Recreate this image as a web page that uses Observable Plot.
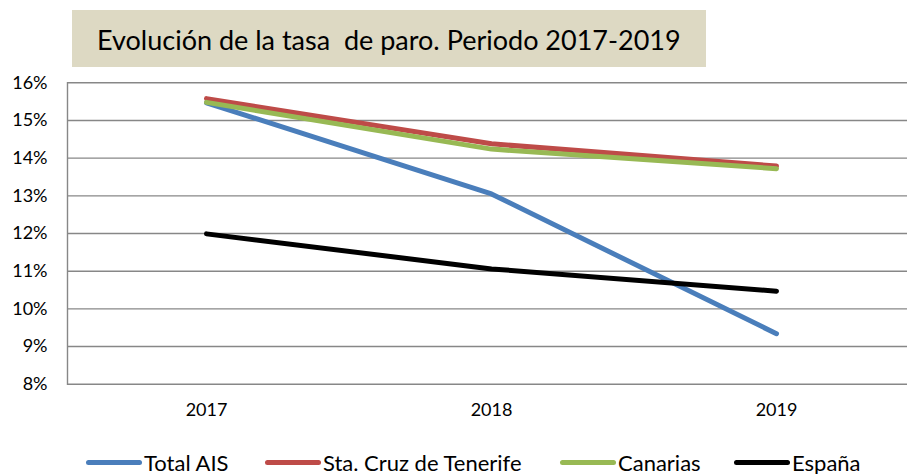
<!DOCTYPE html>
<html>
<head>
<meta charset="utf-8">
<script src="https://cdn.jsdelivr.net/npm/d3@7"></script>
<script src="https://cdn.jsdelivr.net/npm/@observablehq/plot@0.6"></script>
<style>
  html, body { margin: 0; padding: 0; background: #fff; width: 907px; height: 474px; overflow: hidden; font-family: Lato, "Open Sans", sans-serif; }
  #title { position: absolute; left: 72px; top: 10px; width: 634px; height: 57px; background: #ddd9c3; box-sizing: border-box; padding-left: 25px; padding-top: 3px; font-size: 27px; line-height: 54px; color: #000; white-space: pre; }
  #chart { position: absolute; left: 0; top: 72px; }
  #legend { position: absolute; left: 0; top: 450px; width: 907px; height: 24px; font-size: 22px; color: #000; }
  .item { position: absolute; top: 0; display: flex; align-items: center; height: 24px; white-space: pre; }
  .sw { display: inline-block; width: 56px; height: 5px; border-radius: 3px; margin-right: 2px; }
</style>
</head>
<body>
<div id="title">Evolución de la tasa  de paro. Periodo 2017-2019</div>
<div id="chart"></div>
<div id="legend"></div>
<script>
const years = [2017, 2018, 2019];
const seriesNames = ["Total AIS", "Sta. Cruz de Tenerife", "Canarias", "España"];
const totalAIS = [15.47, 13.05, 9.34];
const staCruz = [15.58, 14.38, 13.79];
const canarias = [15.48, 14.24, 13.72];
const espana = [11.99, 11.06, 10.47];
const colors = ["#4a7ebb", "#be4b48", "#98b954", "#000000"];
const yTicks = [8, 9, 10, 11, 12, 13, 14, 15, 16];

const valueSets = [totalAIS, staCruz, canarias, espana];
const data = [];
seriesNames.forEach((s, i) => years.forEach((yr, j) => data.push({serie: s, year: String(yr), value: valueSets[i][j]})));

const plot = Plot.plot({
  width: 907,
  height: 360,
  marginLeft: 67,
  marginRight: 0,
  marginTop: 10.3,
  marginBottom: 48.3,
  style: {fontFamily: "Lato, 'Open Sans', sans-serif", fontSize: "18px", color: "#000", background: "transparent"},
  x: {type: "point", domain: years.map(String), range: [206, 776], padding: 0, label: null},
  y: {domain: [8, 16], label: null},
  color: {domain: seriesNames, range: colors},
  marks: [
    Plot.gridY(yTicks, {stroke: "#878787", strokeOpacity: 1, strokeWidth: 1.4}),
    Plot.frame({anchor: "left", stroke: "#878787", strokeWidth: 1.4}),
    Plot.axisY(yTicks, {tickSize: 0, tickPadding: 20, tickFormat: d => d + "%", fontSize: 18}),
    Plot.axisX(years.map(String), {tickSize: 0, tickPadding: 19, fontSize: 18}),
    Plot.line(data, {x: "year", y: "value", z: "serie", stroke: "serie", strokeWidth: 5, strokeLinecap: "round", strokeLinejoin: "round"})
  ]
});
document.getElementById("chart").appendChild(plot);

const legendX = [86, 265, 560, 734];
const legend = document.getElementById("legend");
seriesNames.forEach((s, i) => {
  const it = document.createElement("div");
  it.className = "item";
  it.style.left = legendX[i] + "px";
  const sw = document.createElement("span");
  sw.className = "sw";
  sw.style.background = colors[i];
  it.appendChild(sw);
  it.appendChild(document.createTextNode(s));
  legend.appendChild(it);
});
</script>
</body>
</html>
